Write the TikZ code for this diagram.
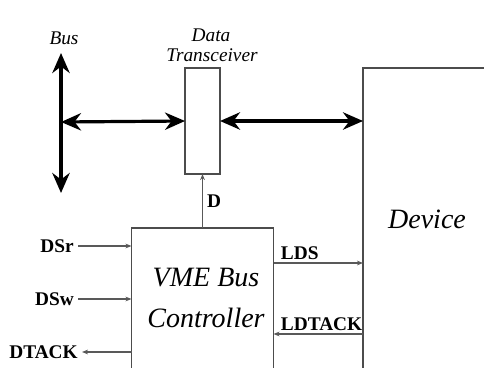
\documentclass[tikz,border=0pt]{standalone}
\usepackage{fontspec}
\setmainfont{Liberation Serif}
\usepackage{tikz}
\usetikzlibrary{arrows.meta}

\begin{document}
\begin{tikzpicture}[x=0.75pt, y=-0.75pt,
	box/.style={draw=black!70, line width=1.1pt, inner sep=0pt, outer sep=0pt},
	bigarrow/.style={line width=2.4pt, {Stealth[length=15pt,width=13pt]}-{Stealth[length=15pt,width=13pt]}},
	sigline/.style={draw=black!65, line width=1pt, -{Stealth[length=4.5pt,width=3.5pt]}},
	sig/.style={font=\fontsize{14.5}{14.5}\selectfont\bfseries, inner sep=3pt},
	ital/.style={font=\fontsize{21}{21}\selectfont\itshape, inner sep=0pt},
	small/.style={font=\fontsize{14.5}{14.5}\selectfont\itshape, inner sep=0pt, anchor=base}]
	\clip (0,0) rectangle (484,367);
	%Bus
	\coordinate (bustop) at (61,53);
	\coordinate (busbot) at (61,193);
	\coordinate (busmid) at (61,122);
	\node [small] (buslbl) at (64,45) {Bus};
	\draw[bigarrow] (bustop) -- (busbot);
	%Transceiver
	\node [box, minimum width=26.25pt, minimum height=79.5pt] (xcvr) at (202.5,121) {};
	\node [small] (xcvrlbl1) at (211,42) {Data};
	\node [small] (xcvrlbl2) at (212,62) {Transceiver};
	%Device
	\node [box, minimum width=102.75pt, minimum height=249pt] (dev) at (431.5,234) {};
	\node [ital] (devlbl) at (427,219) {Device};
	\draw[bigarrow] (busmid) -- (xcvr.west);
	\draw[bigarrow] (xcvr.east) -- (xcvr.east -| dev.west);
	%Controller
	\node [box, minimum width=106.5pt, minimum height=129pt] (ctrl) at (202.5,314) {};
	\node [ital] (ctrl1) at (206,278) {VME Bus};
	\node [ital] (ctrl2) at (206,318) {Controller};
	\draw[sigline] (ctrl.north) -- (xcvr.south) node [sig, midway, right] (dlbl) {D};
	%Inputs
	\node [sig, anchor=east] (dsr) at (78,246) {DSr};
	\node [sig, anchor=east] (dsw) at (78,299) {DSw};
	\node [sig, anchor=east] (dtack) at (82,352) {DTACK};
	\draw[sigline] (dsr.east) -- (dsr.east -| ctrl.west);
	\draw[sigline] (dsw.east) -- (dsw.east -| ctrl.west);
	\draw[sigline] (dtack.east -| ctrl.west) -- (dtack.east);
	%Device side
	\node [sig, anchor=south west, inner sep=2pt] (lds) at (278,263) {LDS};
	\node [sig, anchor=south west, inner sep=2pt] (ldtack) at (278,334) {LDTACK};
	\draw[sigline] (lds.south -| ctrl.east) -- (lds.south -| dev.west);
	\draw[sigline] (ldtack.south -| dev.west) -- (ldtack.south -| ctrl.east);
\end{tikzpicture}
\end{document}
